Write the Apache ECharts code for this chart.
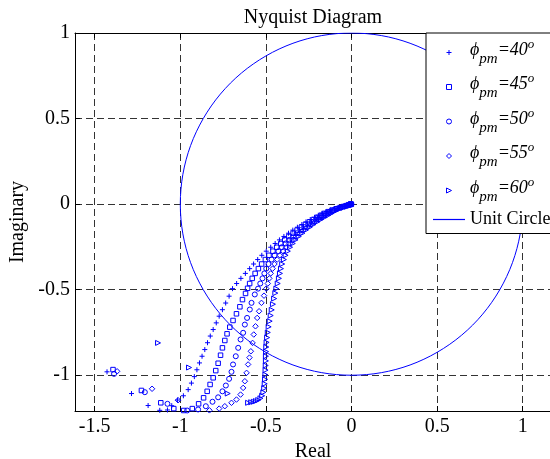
<!DOCTYPE html>
<html><head><meta charset="utf-8">
<script src="https://cdn.jsdelivr.net/npm/echarts@6/dist/echarts.min.js"></script>
<style>html,body{margin:0;padding:0;background:#fff}#c{width:550px;height:459px}</style>
</head><body><div id="c"></div>
<script>
// ---- data ----
const phaseMargins = [40, 45, 50, 55, 60];
const seriesNames = ['ϕpm=40°', 'ϕpm=45°', 'ϕpm=50°', 'ϕpm=55°', 'ϕpm=60°'];
const circleName = 'Unit Circle';

const pm40 = [[-0.001,0],[-0.003,-0.001],[-0.005,-0.001],[-0.008,-0.002],[-0.019,-0.005],[-0.034,-0.009],[-0.052,-0.014],[-0.074,-0.02],[-0.099,-0.027],[-0.124,-0.035],[-0.149,-0.044],[-0.173,-0.054],[-0.194,-0.065],[-0.216,-0.077],[-0.241,-0.09],[-0.266,-0.104],[-0.29,-0.119],[-0.316,-0.135],[-0.343,-0.152],[-0.368,-0.17],[-0.395,-0.189],[-0.421,-0.209],[-0.446,-0.23],[-0.472,-0.252],[-0.498,-0.275],[-0.524,-0.299],[-0.548,-0.324],[-0.572,-0.35],[-0.595,-0.377],[-0.62,-0.405],[-0.646,-0.434],[-0.671,-0.464],[-0.695,-0.494],
  [-0.715,-0.538],[-0.735,-0.578],[-0.754,-0.617],[-0.773,-0.655],[-0.79,-0.694],[-0.808,-0.733],[-0.825,-0.771],[-0.841,-0.81],[-0.857,-0.85],[-0.873,-0.889],[-0.888,-0.928],[-0.903,-0.968],[-0.918,-1.008],[-0.935,-1.046],[-0.954,-1.084],[-0.982,-1.12],[-1.016,-1.145],[-1.05,-1.178],[-1.075,-1.203],[-1.12,-1.205],[-1.188,-1.177],[-1.285,-1.107],[-1.428,-0.98]];

const pm45 = [[-0.001,0],[-0.003,-0.001],[-0.007,-0.002],[-0.017,-0.005],[-0.03,-0.009],[-0.047,-0.014],[-0.067,-0.02],[-0.09,-0.027],[-0.113,-0.035],[-0.135,-0.044],[-0.157,-0.054],[-0.177,-0.065],[-0.199,-0.077],[-0.222,-0.09],[-0.246,-0.104],[-0.269,-0.119],[-0.293,-0.135],[-0.318,-0.152],[-0.341,-0.17],[-0.366,-0.189],[-0.39,-0.209],[-0.413,-0.23],[-0.437,-0.252],[-0.459,-0.275],[-0.482,-0.299],[-0.503,-0.324],[-0.525,-0.35],[-0.544,-0.377],[-0.563,-0.405],[-0.58,-0.434],[-0.595,-0.464],[-0.607,-0.492],
  [-0.619,-0.522],[-0.637,-0.558],[-0.652,-0.6],[-0.672,-0.641],[-0.692,-0.68],[-0.711,-0.719],[-0.727,-0.758],[-0.74,-0.797],[-0.754,-0.84],[-0.765,-0.883],[-0.779,-0.93],[-0.793,-0.973],[-0.808,-1.015],[-0.826,-1.054],[-0.843,-1.094],[-0.864,-1.132],[-0.893,-1.167],[-0.93,-1.195],[-0.98,-1.206],[-1.038,-1.195],[-1.114,-1.161],[-1.227,-1.089],[-1.393,-0.967]];

const pm50 = [[-0.001,0],[-0.003,-0.001],[-0.006,-0.002],[-0.016,-0.005],[-0.029,-0.009],[-0.044,-0.014],[-0.063,-0.02],[-0.086,-0.027],[-0.106,-0.035],[-0.127,-0.044],[-0.147,-0.054],[-0.166,-0.065],[-0.186,-0.077],[-0.208,-0.09],[-0.231,-0.104],[-0.252,-0.119],[-0.274,-0.135],[-0.297,-0.152],[-0.319,-0.17],[-0.342,-0.189],[-0.364,-0.209],[-0.385,-0.23],[-0.407,-0.252],[-0.427,-0.275],[-0.449,-0.299],[-0.467,-0.324],[-0.485,-0.35],[-0.498,-0.377],[-0.509,-0.405],[-0.52,-0.434],[-0.533,-0.464],[-0.546,-0.494],
  [-0.565,-0.528],[-0.584,-0.577],[-0.594,-0.616],[-0.61,-0.665],[-0.623,-0.704],[-0.633,-0.752],[-0.648,-0.791],[-0.662,-0.84],[-0.676,-0.889],[-0.692,-0.937],[-0.701,-0.98],[-0.715,-1.021],[-0.734,-1.06],[-0.754,-1.094],[-0.779,-1.129],[-0.812,-1.155],[-0.851,-1.181],[-0.896,-1.2],[-0.96,-1.206],[-1.075,-1.167],[-1.207,-1.099],[-1.387,-0.992]];

const pm55 = [[-0.001,0],[-0.003,-0.001],[-0.006,-0.002],[-0.015,-0.005],[-0.027,-0.009],[-0.042,-0.014],[-0.06,-0.02],[-0.081,-0.027],[-0.1,-0.035],[-0.118,-0.044],[-0.136,-0.054],[-0.154,-0.065],[-0.173,-0.077],[-0.194,-0.09],[-0.216,-0.104],[-0.237,-0.119],[-0.259,-0.135],[-0.282,-0.152],[-0.302,-0.17],[-0.323,-0.189],[-0.343,-0.209],[-0.362,-0.23],[-0.382,-0.252],[-0.4,-0.275],[-0.419,-0.299],[-0.434,-0.324],[-0.45,-0.35],[-0.461,-0.377],[-0.472,-0.405],[-0.48,-0.434],[-0.489,-0.464],[-0.498,-0.494],
  [-0.511,-0.535],[-0.526,-0.577],[-0.54,-0.626],[-0.551,-0.665],[-0.561,-0.714],[-0.571,-0.762],[-0.578,-0.811],[-0.588,-0.86],[-0.596,-0.897],[-0.604,-0.937],[-0.613,-0.986],[-0.623,-1.035],[-0.633,-1.074],[-0.648,-1.113],[-0.672,-1.142],[-0.701,-1.161],[-0.74,-1.181],[-0.773,-1.195],[-0.83,-1.205],[-1.013,-1.146],[-1.165,-1.079],[-1.369,-0.977]];

const pm60 = [[-0.001,0],[-0.002,-0.001],[-0.005,-0.002],[-0.013,-0.005],[-0.023,-0.009],[-0.036,-0.014],[-0.051,-0.02],[-0.068,-0.027],[-0.084,-0.035],[-0.1,-0.044],[-0.117,-0.054],[-0.136,-0.065],[-0.156,-0.077],[-0.178,-0.09],[-0.2,-0.104],[-0.222,-0.119],[-0.244,-0.135],[-0.267,-0.152],[-0.287,-0.17],[-0.308,-0.189],[-0.327,-0.209],[-0.343,-0.23],[-0.359,-0.252],[-0.372,-0.275],[-0.385,-0.299],[-0.395,-0.324],[-0.405,-0.35],[-0.412,-0.377],[-0.418,-0.405],[-0.424,-0.434],[-0.431,-0.464],[-0.439,-0.494],
  [-0.445,-0.52],[-0.452,-0.552],[-0.459,-0.585],[-0.466,-0.618],[-0.472,-0.651],[-0.478,-0.684],[-0.484,-0.717],[-0.489,-0.75],[-0.493,-0.78],[-0.496,-0.808],[-0.498,-0.835],[-0.499,-0.862],[-0.5,-0.889],[-0.5,-0.916],[-0.501,-0.943],[-0.502,-0.97],[-0.503,-0.997],[-0.505,-1.024],[-0.507,-1.05],[-0.51,-1.076],[-0.515,-1.1],[-0.522,-1.12],[-0.532,-1.135],[-0.545,-1.145],[-0.558,-1.151],[-0.571,-1.155],[-0.586,-1.158],[-0.604,-1.161],[-0.723,-1.107],[-0.949,-0.955],[-1.13,-0.811]];

// unit circle points, every 10 degrees
const unitCircle = [[1,0],[0.985,0.174],[0.94,0.342],[0.866,0.5],[0.766,0.643],[0.643,0.766],[0.5,0.866],[0.342,0.94],[0.174,0.985],[0,1],[-0.174,0.985],[-0.342,0.94],[-0.5,0.866],[-0.643,0.766],[-0.766,0.643],[-0.866,0.5],[-0.94,0.342],[-0.985,0.174],[-1,0],[-0.985,-0.174],[-0.94,-0.342],[-0.866,-0.5],[-0.766,-0.643],[-0.643,-0.766],[-0.5,-0.866],[-0.342,-0.94],[-0.174,-0.985],[0,-1],[0.174,-0.985],[0.342,-0.94],[0.5,-0.866],[0.643,-0.766],[0.766,-0.643],[0.866,-0.5],[0.94,-0.342],[0.985,-0.174],[1,0]];

const xRange = [-1.615, 1.165];
const yRange = [-1.209, 1];
const titleText = 'Nyquist Diagram';
const xName = 'Real';
const yName = 'Imaginary';

// ---- chart ----
const seriesData = [pm40, pm45, pm50, pm55, pm60];
const markerSymbols = [
  'path://M0,5L10,5M5,0L5,10',
  'path://M0,0L10,0L10,10L0,10Z',
  'circle',
  'path://M5,0L10,5L5,10L0,5Z',
  'path://M0,0L10,5L0,10Z'
];
const markerSizes = [5, 4.5, 5, 5.5, 5];
const BLUE = '#0000ff';
const FONT = 'Liberation Serif';

const chart = echarts.init(document.getElementById('c'), null, {renderer: 'canvas'});
const series = seriesData.map((d, i) => ({
  name: seriesNames[i],
  type: 'scatter',
  data: d,
  symbol: markerSymbols[i],
  symbolSize: markerSizes[i],
  symbolKeepAspect: true,
  itemStyle: {color: 'rgba(0,0,0,0)', borderColor: BLUE, borderWidth: 1, opacity: 1},
  emphasis: {disabled: true},
  silent: true,
  clip: true,
  z: 3
}));
series.push({
  name: circleName,
  type: 'line',
  data: unitCircle,
  symbol: 'none',
  smooth: 0.335,
  color: BLUE,
  lineStyle: {color: BLUE, width: 1},
  itemStyle: {color: BLUE, borderColor: BLUE},
  emphasis: {disabled: true},
  silent: true,
  clip: true,
  z: 3
});

const tickFont = {color: '#000', fontFamily: FONT, fontSize: 20};
const rich = {
  phi: {fontFamily: FONT, fontStyle: 'italic', fontSize: 18, lineHeight: 26, padding: [0,0,5,0], verticalAlign: 'middle', color: '#000'},
  sub: {fontFamily: FONT, fontStyle: 'italic', fontSize: 15, lineHeight: 26, padding: [13,0,0,0], verticalAlign: 'middle', color: '#000'},
  eq:  {fontFamily: FONT, fontStyle: 'italic', fontSize: 18, lineHeight: 26, padding: [0,0,5,0], verticalAlign: 'middle', color: '#000'},
  deg: {fontFamily: FONT, fontStyle: 'italic', fontSize: 13, lineHeight: 26, padding: [0,0,16,0], verticalAlign: 'middle', color: '#000'}
};

const legendData = seriesNames.map(n => ({name: n}));
legendData.push({
  name: circleName,
  icon: 'path://M0,0L32,0L32,1.2L0,1.2Z',
  itemStyle: {color: BLUE, borderColor: BLUE, borderWidth: 0}
});

chart.setOption({
  animation: false,
  backgroundColor: '#fff',
  grid: {left: 75, top: 33, width: 476, height: 378, containLabel: false, outerBoundsMode: 'none'},
  legend: {
    orient: 'vertical',
    left: 426, top: 33,
    padding: [5, 10, 5, 7],
    itemGap: 5.5,
    itemWidth: 32, itemHeight: 5,
    backgroundColor: '#fff',
    borderColor: '#000', borderWidth: 1, borderRadius: 0,
    selectedMode: false,
    itemStyle: {borderWidth: 1},
    data: legendData,
    formatter: function (name) {
      const i = seriesNames.indexOf(name);
      if (i < 0) return name;
      return '{phi|ϕ}{sub|pm}{eq|=' + phaseMargins[i] + '}{deg|o}';
    },
    textStyle: {color: '#000', fontFamily: FONT, fontSize: 18, lineHeight: 18, rich: rich},
    z: 10
  },
  xAxis: [{
    type: 'value', min: xRange[0], max: xRange[1], position: 'bottom',
    axisLine: {onZero: false, lineStyle: {color: '#000', width: 1}},
    axisTick: {inside: true, length: 5, lineStyle: {color: '#000'}},
    axisLabel: Object.assign({margin: 6, showMinLabel: false, showMaxLabel: false}, tickFont),
    splitLine: {show: true, lineStyle: {color: '#333', width: 1, type: [7, 4]}},
    name: xName, nameLocation: 'middle', nameGap: 28,
    nameTextStyle: {color: '#000', fontFamily: FONT, fontSize: 20}
  }, {
    type: 'value', min: xRange[0], max: xRange[1], position: 'top',
    axisLine: {onZero: false, lineStyle: {color: '#000', width: 1}},
    axisTick: {inside: true, length: 5, lineStyle: {color: '#000'}},
    axisLabel: {show: false},
    splitLine: {show: false},
    name: titleText, nameLocation: 'middle', nameGap: 5,
    nameTextStyle: {color: '#000', fontFamily: FONT, fontSize: 20}
  }],
  yAxis: [{
    type: 'value', min: yRange[0], max: yRange[1],
    axisLine: {onZero: false, lineStyle: {color: '#000', width: 1}},
    axisTick: {inside: true, length: 5, lineStyle: {color: '#000'}},
    axisLabel: Object.assign({margin: 5, showMinLabel: false}, tickFont),
    splitLine: {show: true, lineStyle: {color: '#333', width: 1, type: [7, 4]}},
    name: yName, nameLocation: 'middle', nameGap: 39, nameRotate: 90,
    nameTextStyle: {color: '#000', fontFamily: FONT, fontSize: 20}
  }],
  series: series
});
</script>
</body></html>
